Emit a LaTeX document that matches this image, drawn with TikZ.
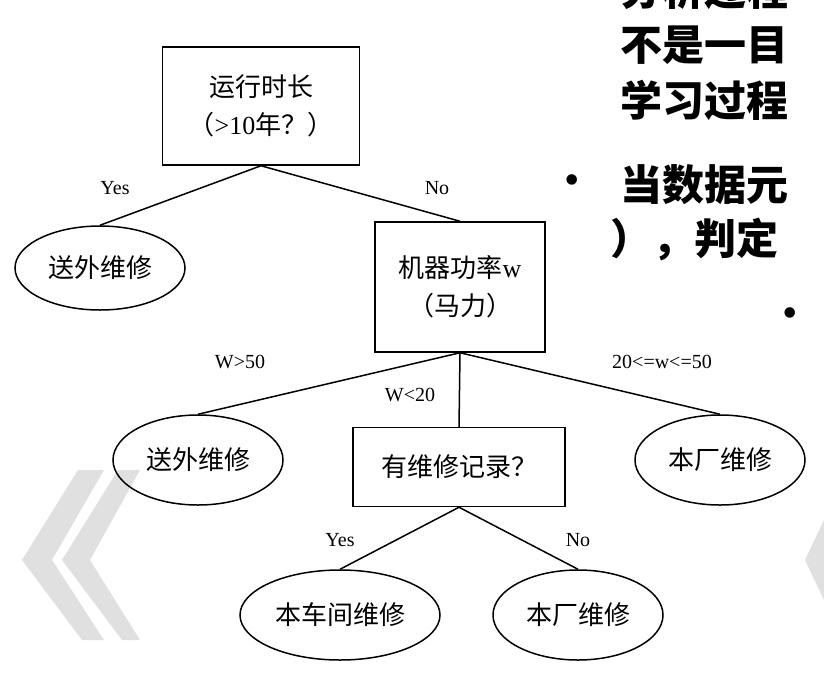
\documentclass[tikz,border=0pt]{standalone}
\usepackage{fontspec}
\usetikzlibrary{shapes.geometric}
\setmainfont{Liberation Serif}
\newfontfamily\cjk{Noto Sans CJK SC}
\tikzset{every picture/.style={line width=1.5pt}}
\tikzset{
	box/.style={draw, rectangle, align=center, font=\fontsize{26}{38}\selectfont},
	leaf/.style={draw, ellipse, align=center, font=\fontsize{26}{30}\selectfont},
	lab/.style={font=\fontsize{20}{22}\selectfont, inner sep=1pt},
	chev/.style={fill=black!12, draw=none},
	slide/.style={anchor=west, font=\fontsize{42}{44}\selectfont\cjk\bfseries, inner sep=0pt}}

\begin{document}
\begin{tikzpicture}[x=1pt,y=1pt,yscale=-1,xscale=1]
	\useasboundingbox (0,0) rectangle (824,681);
	
	% background chevrons
	\fill [chev] (78,470) -- (22,560) -- (82,640) -- (104,640) -- (52,560) -- (104,470) -- cycle;
	\fill [chev] (118,470) -- (62,560) -- (122,640) -- (140,640) -- (90,560) -- (140,470) -- cycle;
	\fill [chev] (824,520) -- (805,560) -- (824,600) -- cycle;
	
	% slide text (cut off)
	\node [slide] (s0) at (620,-10) {分析过程};
	\node [slide] (s1) at (620,45) {不是一目};
	\node [slide] (s2) at (620,100) {学习过程};
	\node [slide] (s3) at (620,185) {当数据元};
	\node [slide] (s4) at (610,240) {），判定};
	\node [anchor=center, font=\fontsize{44}{44}\selectfont] (d1) at (572,185) {•};
	\node [anchor=center, font=\fontsize{44}{44}\selectfont] (d2) at (790,318) {•};
	
	% tree nodes
	\node [box, minimum width=197, minimum height=118] (b1) at (261,106) {{\cjk 运行时长}\\{\cjk （}{>}10{\cjk 年？）}};
	\node [leaf, minimum width=170, minimum height=84] (e1) at (100,268) {\cjk 送外维修};
	\node [box, minimum width=170, minimum height=130] (b2) at (460,287) {{\cjk 机器功率}w\\{\cjk （马力）}};
	\node [leaf, minimum width=170, minimum height=90] (e2) at (198,460) {\cjk 送外维修};
	\node [box, minimum width=212, minimum height=79] (b3) at (459,467) {\cjk 有维修记录？};
	\node [leaf, minimum width=170, minimum height=90] (e3) at (720,460) {\cjk 本厂维修};
	\node [leaf, minimum width=200, minimum height=90] (e4) at (340,615) {\cjk 本车间维修};
	\node [leaf, minimum width=170, minimum height=90] (e5) at (578,615) {\cjk 本厂维修};
	
	% connectors
	\draw (b1.south) -- (e1.north);
	\draw (b1.south) -- (b2.north);
	\draw (b2.south) -- (e2.north);
	\draw (b2.south) -- (b3.north);
	\draw (b2.south) -- (e3.north);
	\draw (b3.south) -- (e4.north);
	\draw (b3.south) -- (e5.north);
	
	% branch labels
	\node [lab] (l1) at (115,188) {Yes};
	\node [lab] (l2) at (437,188) {No};
	\node [lab] (l3) at (240,362) {W>50};
	\node [lab] (l4) at (410,395) {W<20};
	\node [lab] (l5) at (662,362) {20<=w<=50};
	\node [lab] (l6) at (340,540) {Yes};
	\node [lab] (l7) at (578,540) {No};
\end{tikzpicture}
\end{document}
